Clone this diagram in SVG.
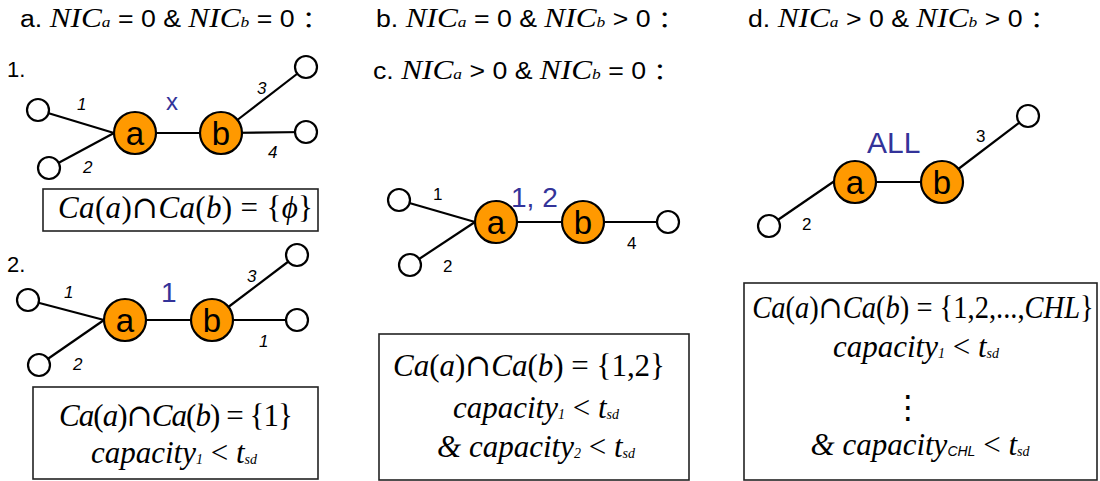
<svg xmlns="http://www.w3.org/2000/svg" width="1100" height="481" viewBox="0 0 1100 481">
<style>
.title{font-family:"Liberation Sans",Arial,sans-serif;font-size:23px;fill:#000}
.nic{font-family:"Liberation Serif","Times New Roman",serif;font-style:italic;font-size:27px}
.nsub{font-family:"Liberation Serif","Times New Roman",serif;font-style:italic;font-size:15px}
.colon{font-family:"Noto Sans CJK SC","Liberation Sans",sans-serif}
.num{font-family:"Liberation Sans",Arial,sans-serif;font-size:22px;fill:#000}
.edge{stroke:#000;stroke-width:2.2;fill:none}
.leaf{fill:#fff;stroke:#000;stroke-width:2.2}
.node{fill:#FF9900;stroke:#000;stroke-width:2.2}
.nl{font-family:"Liberation Sans",Arial,sans-serif;font-size:33px;fill:#000;text-anchor:middle}
.el{font-family:"Liberation Sans",Arial,sans-serif;font-size:17px;fill:#000}
.eli{font-style:italic}
.blue{font-family:"Liberation Sans",Arial,sans-serif;fill:#333399}
.box{fill:#fff;stroke:#222;stroke-width:1.6}
.f{font-family:"Liberation Serif","Times New Roman",serif;font-size:31px;fill:#000;text-anchor:middle}
.fl{font-family:"Liberation Serif","Times New Roman",serif;font-size:31px;fill:#000}
.i{font-style:italic}
.s{font-style:italic;font-size:14px}
.cap{font-family:"DejaVu Serif",serif;font-style:normal}
</style>

<!-- Titles -->
<g id="titles">
<text class="title" transform="translate(20,27) scale(1.16,1)">a. <tspan class="nic">NIC</tspan><tspan class="nsub">a</tspan> = 0 &amp; <tspan class="nic">NIC</tspan><tspan class="nsub">b</tspan> = 0 <tspan class="colon">：</tspan></text>
<text class="title" transform="translate(376,27) scale(1.16,1)">b. <tspan class="nic">NIC</tspan><tspan class="nsub">a</tspan> = 0 &amp; <tspan class="nic">NIC</tspan><tspan class="nsub">b</tspan> &gt; 0 <tspan class="colon">：</tspan></text>
<text class="title" transform="translate(373,79) scale(1.16,1)">c. <tspan class="nic">NIC</tspan><tspan class="nsub">a</tspan> &gt; 0 &amp; <tspan class="nic">NIC</tspan><tspan class="nsub">b</tspan> = 0 <tspan class="colon">：</tspan></text>
<text class="title" transform="translate(748,27) scale(1.16,1)">d. <tspan class="nic">NIC</tspan><tspan class="nsub">a</tspan> &gt; 0 &amp; <tspan class="nic">NIC</tspan><tspan class="nsub">b</tspan> &gt; 0 <tspan class="colon">：</tspan></text>
<text class="num" x="7" y="77">1.</text>
<text class="num" x="7" y="272">2.</text>
</g>

<!-- Connectors -->
<g id="connectors">
<!-- a1 -->
<line class="edge" x1="38" y1="110" x2="114" y2="133"/>
<line class="edge" x1="49" y1="168" x2="114" y2="133"/>
<line class="edge" x1="135" y1="133" x2="221" y2="133"/>
<line class="edge" x1="236" y1="121" x2="306" y2="67"/>
<line class="edge" x1="221" y1="133" x2="306" y2="132"/>
<!-- a2 -->
<line class="edge" x1="28" y1="300" x2="104" y2="320"/>
<line class="edge" x1="39" y1="365" x2="104" y2="320"/>
<line class="edge" x1="125" y1="320" x2="212" y2="320"/>
<line class="edge" x1="227" y1="308" x2="297" y2="255"/>
<line class="edge" x1="212" y1="320" x2="297" y2="320"/>
<!-- c -->
<line class="edge" x1="399" y1="200" x2="475" y2="222"/>
<line class="edge" x1="410" y1="265" x2="475" y2="222"/>
<line class="edge" x1="496" y1="222" x2="583" y2="222"/>
<line class="edge" x1="583" y1="222" x2="668" y2="222"/>
<!-- d -->
<line class="edge" x1="769" y1="226" x2="836" y2="180"/>
<line class="edge" x1="855" y1="182" x2="942" y2="182"/>
<line class="edge" x1="957" y1="170" x2="1028" y2="116"/>
</g>

<!-- Panel a1 -->
<g id="a1-leaf1"><circle class="leaf" cx="38" cy="110" r="11"/></g>
<g id="a1-leaf2"><circle class="leaf" cx="49" cy="168" r="11"/></g>
<g id="a1-leaf3"><circle class="leaf" cx="306" cy="67" r="11"/></g>
<g id="a1-leaf4"><circle class="leaf" cx="306" cy="132" r="11"/></g>
<g id="a1-a"><circle class="node" cx="135" cy="133" r="21"/><text class="nl" x="135" y="145">a</text></g>
<g id="a1-b"><circle class="node" cx="221" cy="133" r="21"/><text class="nl" x="221" y="145">b</text></g>
<g id="a1-labels">
<text class="el eli" x="77" y="110">1</text>
<text class="el eli" x="83" y="173">2</text>
<text class="el eli" x="257" y="94">3</text>
<text class="el eli" x="268" y="158">4</text>
<text class="blue" x="166" y="110" font-size="24">x</text>
</g>
<g id="a1-box">
<rect class="box" x="43" y="189" width="275" height="42"/>
<text class="fl" x="58" y="218" textLength="255" lengthAdjust="spacing"><tspan class="i">Ca</tspan>(<tspan class="i">a</tspan>)<tspan class="cap">∩</tspan><tspan class="i">Ca</tspan>(<tspan class="i">b</tspan>) = {<tspan class="i">ϕ</tspan>}</text>
</g>

<!-- Panel a2 -->
<g id="a2-leaf1"><circle class="leaf" cx="28" cy="300" r="11"/></g>
<g id="a2-leaf2"><circle class="leaf" cx="39" cy="365" r="11"/></g>
<g id="a2-leaf3"><circle class="leaf" cx="297" cy="255" r="11"/></g>
<g id="a2-leaf4"><circle class="leaf" cx="297" cy="320" r="11"/></g>
<g id="a2-a"><circle class="node" cx="125" cy="320" r="21"/><text class="nl" x="125" y="332">a</text></g>
<g id="a2-b"><circle class="node" cx="212" cy="320" r="21"/><text class="nl" x="212" y="332">b</text></g>
<g id="a2-labels">
<text class="el eli" x="64" y="298">1</text>
<text class="el eli" x="73" y="370">2</text>
<text class="el eli" x="247" y="282">3</text>
<text class="el eli" x="259" y="347">1</text>
<text class="blue" x="161" y="302" font-size="28">1</text>
</g>
<g id="a2-box">
<rect class="box" x="33" y="387" width="285" height="92"/>
<text class="fl" x="59" y="426" textLength="234" lengthAdjust="spacing"><tspan class="i">Ca</tspan>(<tspan class="i">a</tspan>)<tspan class="cap">∩</tspan><tspan class="i">Ca</tspan>(<tspan class="i">b</tspan>) = {1}</text>
<text class="f" x="174" y="463"><tspan class="i">capacity</tspan><tspan class="s" dy="1">1</tspan><tspan dy="-1"> &lt; </tspan><tspan class="i">t</tspan><tspan class="s" dy="1">sd</tspan></text>
</g>

<!-- Panel c -->
<g id="c-leaf1"><circle class="leaf" cx="399" cy="200" r="11"/></g>
<g id="c-leaf2"><circle class="leaf" cx="410" cy="265" r="11"/></g>
<g id="c-leaf4"><circle class="leaf" cx="668" cy="222" r="11"/></g>
<g id="c-a"><circle class="node" cx="496" cy="222" r="21"/><text class="nl" x="496" y="234">a</text></g>
<g id="c-b"><circle class="node" cx="583" cy="222" r="21"/><text class="nl" x="583" y="234">b</text></g>
<g id="c-labels">
<text class="el" x="433" y="200">1</text>
<text class="el" x="443" y="272">2</text>
<text class="el" x="627" y="249">4</text>
<text class="blue" x="511" y="207" font-size="28">1, 2</text>
</g>
<g id="c-box">
<rect class="box" x="379" y="334" width="310" height="146"/>
<text class="fl" x="393" y="376" textLength="272" lengthAdjust="spacing"><tspan class="i">Ca</tspan>(<tspan class="i">a</tspan>)<tspan class="cap">∩</tspan><tspan class="i">Ca</tspan>(<tspan class="i">b</tspan>) = {1,2}</text>
<text class="f" x="536" y="418"><tspan class="i">capacity</tspan><tspan class="s" dy="1">1</tspan><tspan dy="-1"> &lt; </tspan><tspan class="i">t</tspan><tspan class="s" dy="1">sd</tspan></text>
<text class="f" x="536" y="457"><tspan class="i">&amp; capacity</tspan><tspan class="s" dy="1">2</tspan><tspan dy="-1"> &lt; </tspan><tspan class="i">t</tspan><tspan class="s" dy="1">sd</tspan></text>
</g>

<!-- Panel d -->
<g id="d-leaf2"><circle class="leaf" cx="769" cy="226" r="11"/></g>
<g id="d-leaf3"><circle class="leaf" cx="1028" cy="116" r="11"/></g>
<g id="d-a"><circle class="node" cx="855" cy="182" r="21"/><text class="nl" x="855" y="194">a</text></g>
<g id="d-b"><circle class="node" cx="942" cy="182" r="21"/><text class="nl" x="942" y="194">b</text></g>
<g id="d-labels">
<text class="el" x="802" y="230">2</text>
<text class="el" x="976" y="142">3</text>
<text class="blue" x="867" y="153" font-size="30">ALL</text>
</g>
<g id="d-box">
<rect class="box" x="744" y="283" width="353" height="197"/>
<text class="f" transform="translate(923,318) scale(0.92,1)"><tspan class="i">Ca</tspan>(<tspan class="i">a</tspan>)<tspan class="cap">∩</tspan><tspan class="i">Ca</tspan>(<tspan class="i">b</tspan>) = {1,2,...,<tspan class="i">CHL</tspan>}</text>
<text class="f" x="916" y="357"><tspan class="i">capacity</tspan><tspan class="s" dy="1">1</tspan><tspan dy="-1"> &lt; </tspan><tspan class="i">t</tspan><tspan class="s" dy="1">sd</tspan></text>
<text x="908" y="418" font-family="DejaVu Sans,sans-serif" font-size="32" text-anchor="middle">⋮</text>
<text class="f" x="920" y="455"><tspan class="i">&amp; capacity</tspan><tspan class="s" dy="1" font-family="Liberation Sans,sans-serif" font-style="normal" font-size="11">CHL</tspan><tspan dy="-1"> &lt; </tspan><tspan class="i">t</tspan><tspan class="s" dy="1">sd</tspan></text>
</g>
</svg>
